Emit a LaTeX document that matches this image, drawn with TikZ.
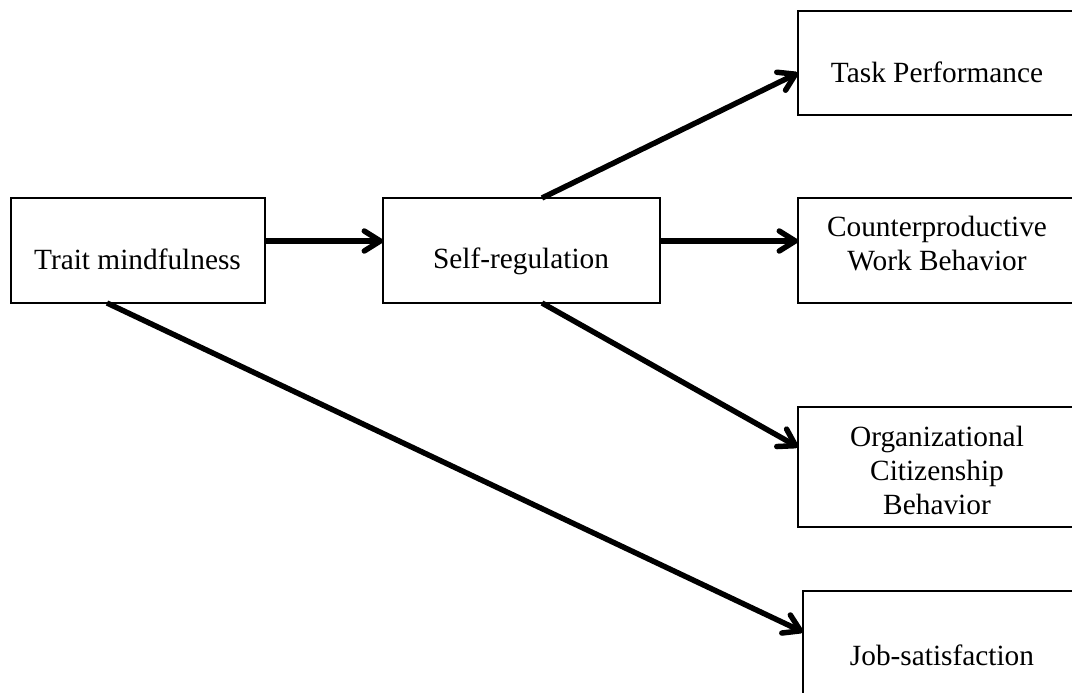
\documentclass[tikz,border=0pt]{standalone}
\usepackage{fontspec}
\setmainfont{Liberation Serif}
\usetikzlibrary{arrows.meta,calc}
\begin{document}
\begin{tikzpicture}[x=0.75pt,y=-0.75pt,
  box/.style={draw,line width=1.3pt,anchor=north west,inner sep=0pt,outer sep=0pt},
  lbl/.style={font=\fontsize{22}{25.5}\selectfont,align=center,inner sep=0pt,anchor=base},
  arr/.style={line width=4.1pt,-{Straight Barb[length=12pt,width=15pt,line cap=round,line join=round]}}]
\useasboundingbox (0,0) rectangle (1072,693);
% boxes (the right-hand column runs past the page edge)
\node[box,minimum width=190.5pt,minimum height=78.75pt] (tm) at (11,198) {};
\node[box,minimum width=207.75pt,minimum height=78.75pt] (sr) at (383,198) {};
\node[box,minimum width=240pt,minimum height=78pt] (tp) at (798,11) {};
\node[box,minimum width=240pt,minimum height=78.75pt] (cwb) at (798,198) {};
\node[box,minimum width=240pt,minimum height=90pt] (ocb) at (798,407) {};
\node[box,minimum width=240pt,minimum height=82.5pt] (js) at (803,591) {};
% labels (anchored at the baseline of the last line)
\node[lbl] (tmt) at (137.5,269) {Trait mindfulness};
\node[lbl] (srt) at (521,268) {Self-regulation};
\node[lbl] (tpt) at (937,82) {Task Performance};
\node[lbl] (cwbt) at (937,270) {Counterproductive\\Work Behavior};
\node[lbl] (ocbt) at (937,514) {Organizational\\Citizenship\\Behavior};
\node[lbl] (jst) at (942,665) {Job-satisfaction};
% paths
\draw[arr] ($(tm.north east)+(0,43)$) -- ($(sr.north west)+(0,43)$);
\draw[arr] ($(sr.north east)+(0,43)$) -- ($(cwb.north west)+(0,43)$);
\draw[arr] ($(sr.north west)!0.574!(sr.north east)$) -- ($(tp.north west)+(0,62)$);
\draw[arr] ($(sr.south west)!0.574!(sr.south east)$) -- ($(ocb.north west)+(0,40)$);
\draw[arr] ($(tm.south west)!0.378!(tm.south east)$) -- ($(js.north west)+(0,41)$);
\end{tikzpicture}
\end{document}
